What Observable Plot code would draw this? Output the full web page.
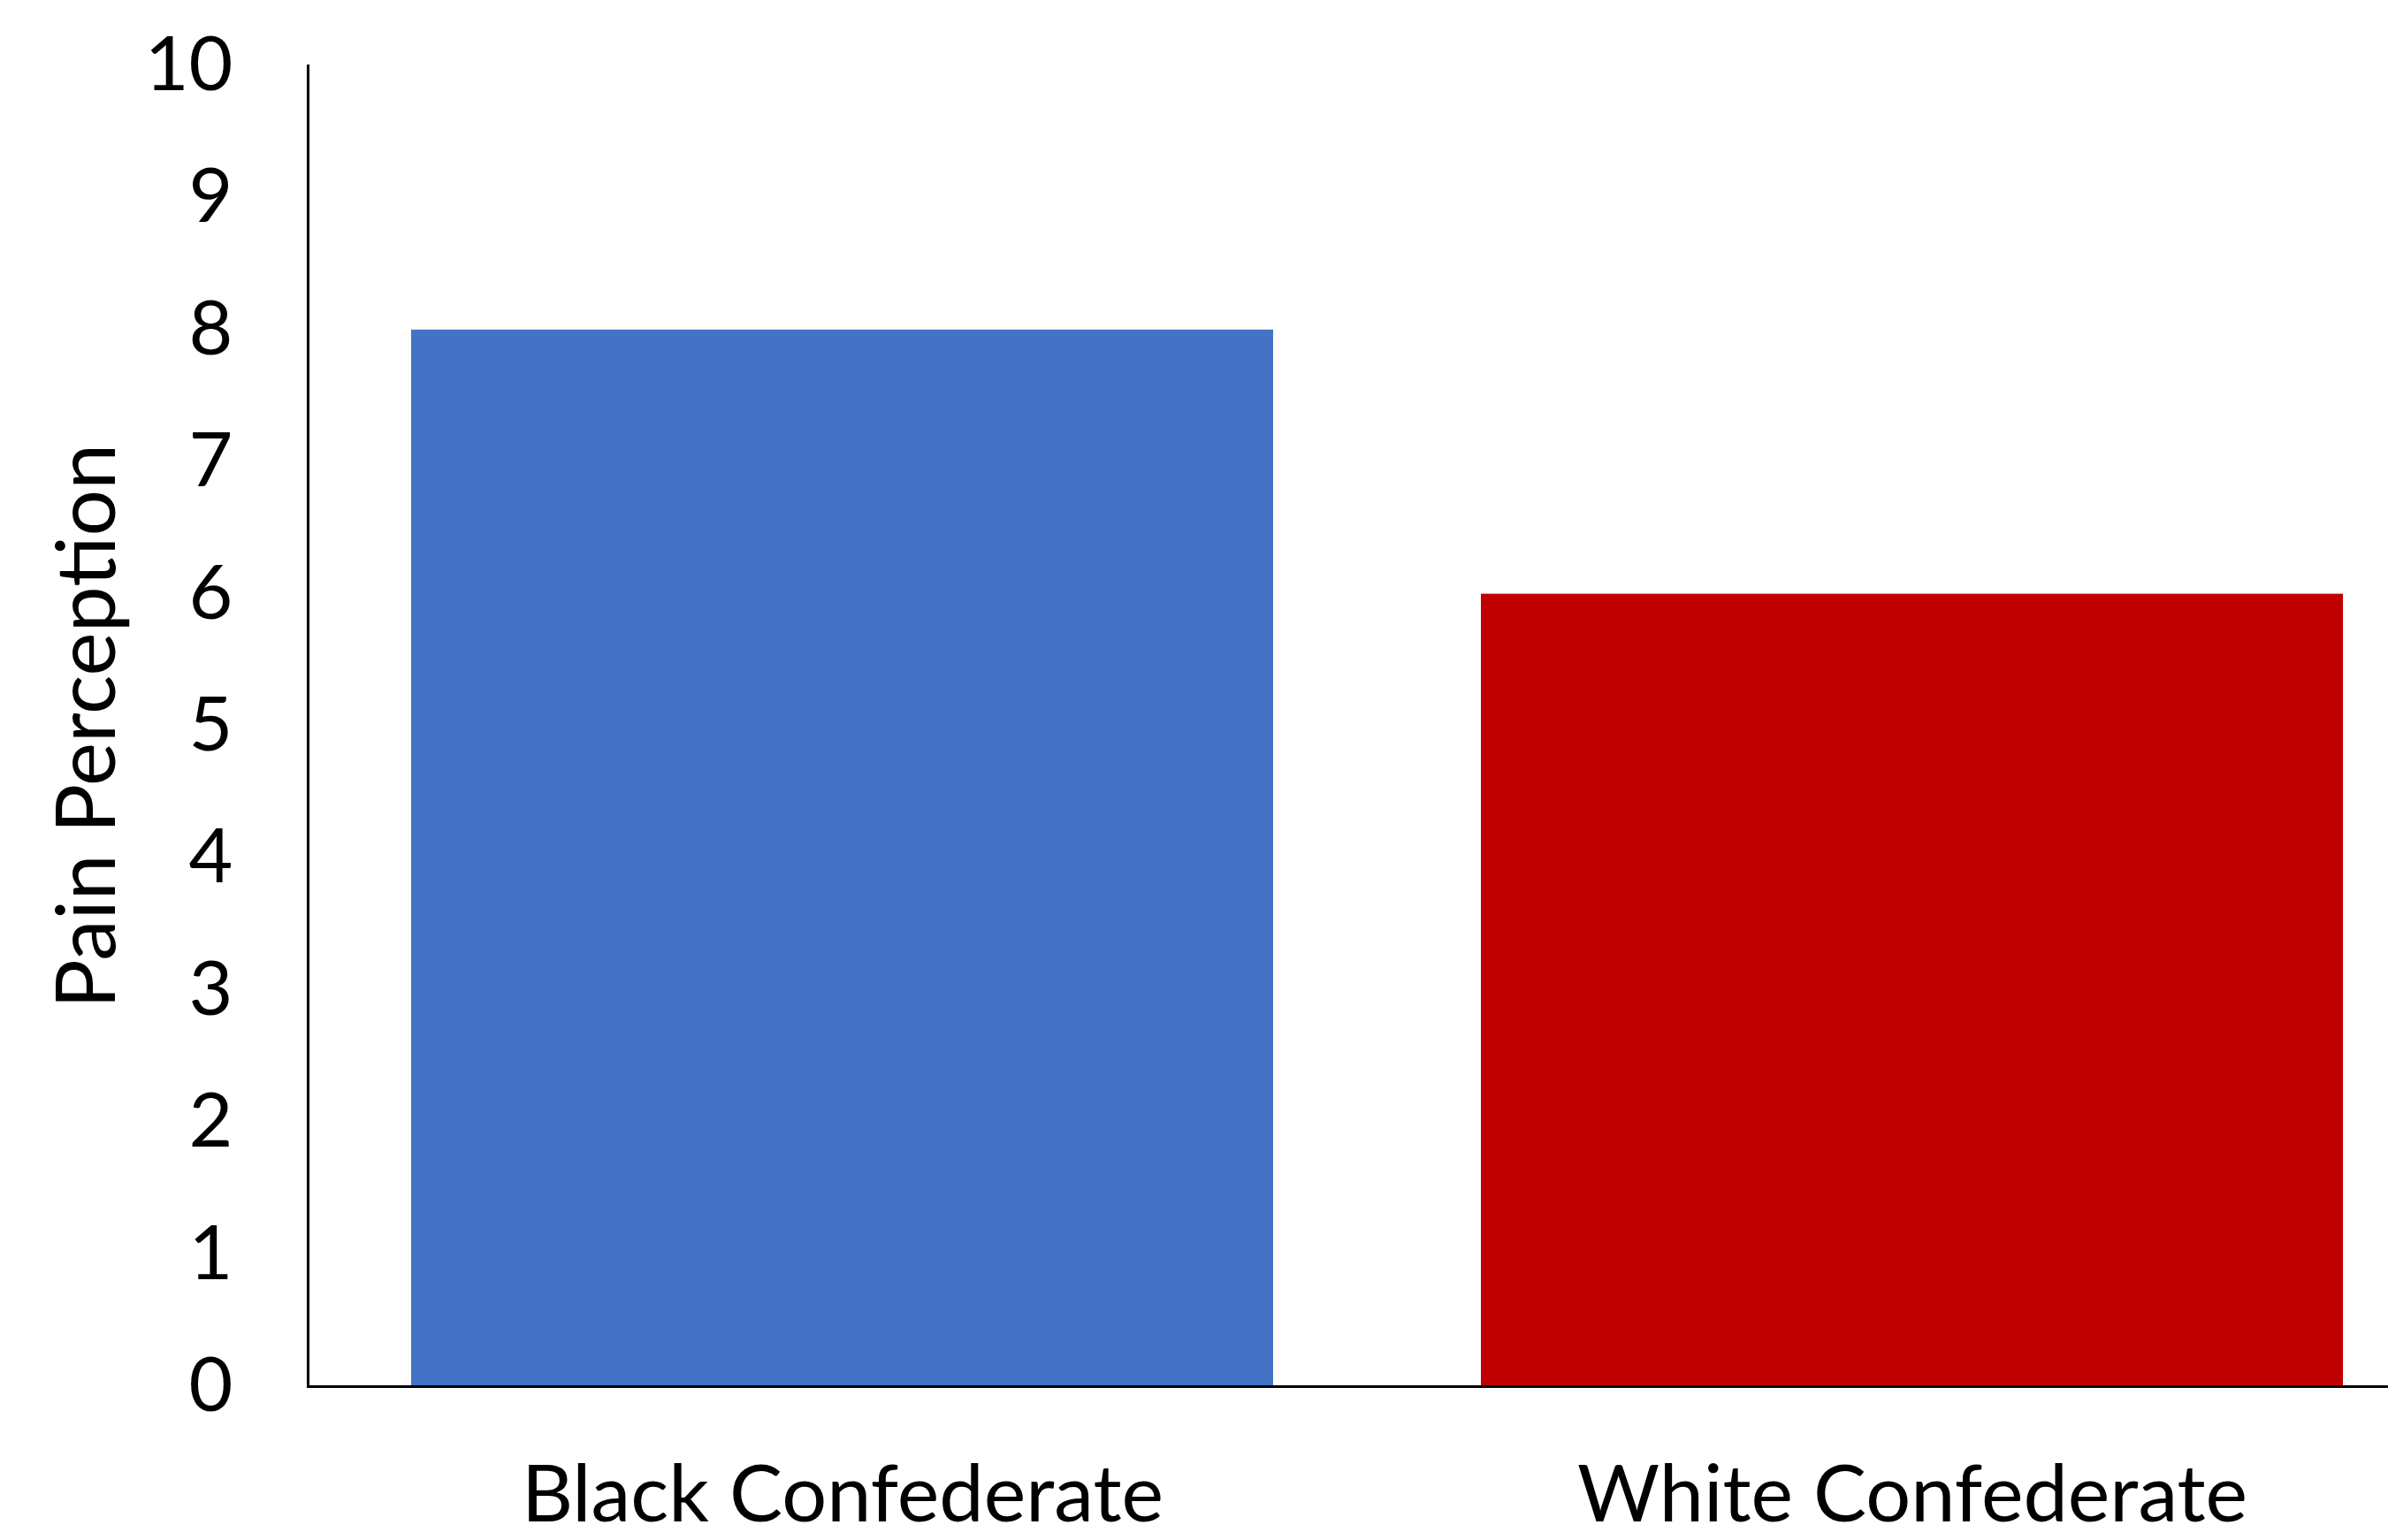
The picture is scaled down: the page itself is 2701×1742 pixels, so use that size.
<!DOCTYPE html>
<html>
<head>
<meta charset="utf-8">
<script src="https://cdn.jsdelivr.net/npm/d3@7"></script>
<script src="https://cdn.jsdelivr.net/npm/@observablehq/plot@0.6"></script>
<style>
  html, body { margin: 0; padding: 0; background: #fff; overflow: hidden; }
  #chart svg { display: block; }
</style>
</head>
<body>
<div id="chart"></div>
<script>
const categories = ["Black Confederate", "White Confederate"];
const values = [8, 6];
const colors = ["#4472C4", "#C00000"];
const yTicks = [0, 1, 2, 3, 4, 5, 6, 7, 8, 9, 10];
const yLabel = "Pain Perception";

const data = categories.map((c, i) => ({category: c, value: values[i], color: colors[i]}));

const chart = Plot.plot({
  width: 2701,
  height: 1742,
  marginLeft: 348,
  marginRight: 0,
  marginTop: 74,
  marginBottom: 174,
  style: {fontFamily: "Lato, 'Open Sans', sans-serif", fontSize: "86px", color: "#000", background: "#fff", overflow: "hidden"},
  x: {domain: categories, range: [348, 2768], paddingInner: 0.194, paddingOuter: 0.097, label: null},
  y: {domain: [0, 10], label: null},
  marks: [
    Plot.barY(data, {x: "category", y: "value", fill: "color"}),
    Plot.axisY(yTicks, {tickSize: 0, tickPadding: 85, fontSize: 86, tickFormat: d => String(d), label: null}),
    Plot.text([yLabel], {frameAnchor: "left", textAnchor: "middle", dx: -248, rotate: -90, fontSize: 93, fill: "#000"}),
    Plot.axisX({tickSize: 0, tickPadding: 89, fontSize: 90, label: null}),
    Plot.frame({anchor: "left", stroke: "#000", strokeWidth: 3}),
    Plot.ruleY([0], {stroke: "#000", strokeWidth: 3})
  ]
});
document.getElementById("chart").appendChild(chart);
</script>
</body>
</html>
